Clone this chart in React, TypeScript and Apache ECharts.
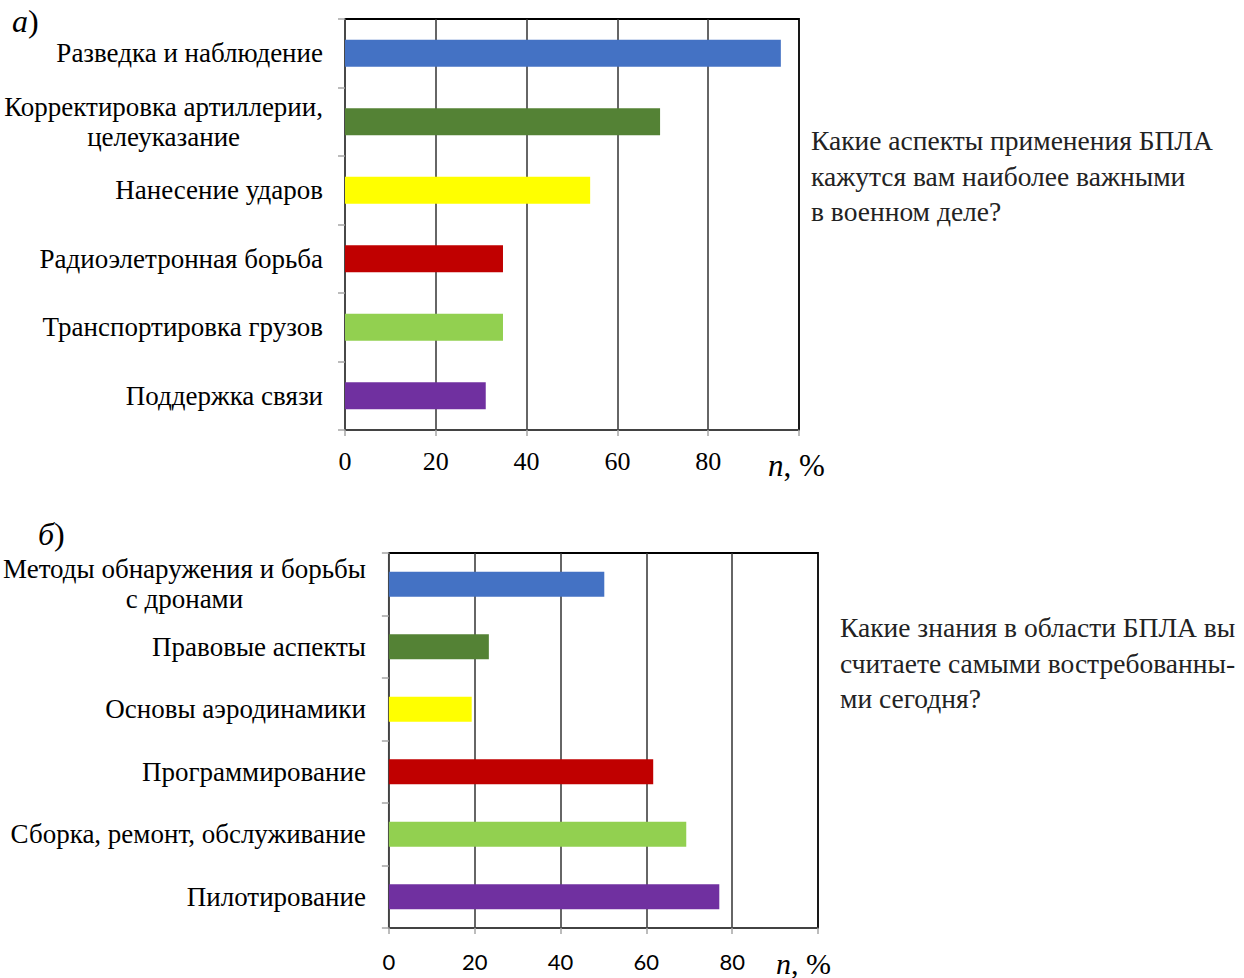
import React, { useEffect, useRef } from "react";
import * as echarts from "echarts";

const catsA = [
  "Разведка и наблюдение",
  "Корректировка артиллерии,\nцелеуказание",
  "Нанесение ударов",
  "Радиоэлетронная борьба",
  "Транспортировка грузов",
  "Поддержка связи",
];
const valsA = [96, 69.4, 54, 34.8, 34.8, 31];

const catsB = [
  "Методы обнаружения и борьбы\nс дронами",
  "Правовые аспекты",
  "Основы аэродинамики",
  "Программирование",
  "Сборка, ремонт, обслуживание",
  "Пилотирование",
];
const valsB = [50.2, 23.3, 19.3, 61.6, 69.3, 77];

const xTicks = [0, 20, 40, 60, 80];
const barColors = ["#4472C4", "#548235", "#FFFF00", "#C00000", "#92D050", "#7030A0"];

const questionA = ["Какие аспекты применения БПЛА", "кажутся вам наиболее важными", "в военном деле?"];
const questionB = ["Какие знания в области БПЛА вы", "считаете самыми востребованны-", "ми сегодня?"];

const SERIF = "Liberation Serif";

export default function App() {
  const ref = useRef<HTMLDivElement>(null);
  useEffect(() => {
    if (!ref.current) return;
    const chart = echarts.init(ref.current, undefined, { renderer: "svg" });

    const mkX = (gi: number, font: string, size: number, margin: number) => ({
      type: "value",
      gridIndex: gi,
      min: 0,
      max: 100,
      interval: 20,
      axisLine: { show: true, lineStyle: { color: "#595959", width: 1.5 } },
      axisTick: { show: true, length: 6, lineStyle: { color: "#A6A6A6", width: 1.5 } },
      axisLabel: {
        margin,
        fontFamily: font,
        fontSize: size,
        color: "#000",
        formatter: (v: number) => (xTicks.includes(v) ? String(v) : ""),
      },
      splitLine: { show: true, showMinLine: false, showMaxLine: false, lineStyle: { color: "#333333", width: 1.5 } },
    });

    const fmtCat = (v: string) =>
      v.includes("\n")
        ? v
            .split("\n")
            .map((l) => `{c|${l}}`)
            .join("\n")
        : v;

    const mkY = (gi: number, cats: string[], margin: number, lh: number) => ({
      type: "category",
      gridIndex: gi,
      data: cats,
      inverse: true,
      axisLine: { show: true, lineStyle: { color: "#595959", width: 1.5 } },
      axisTick: { show: true, length: 7, lineStyle: { color: "#A6A6A6", width: 1.5 } },
      axisLabel: {
        margin,
        fontFamily: SERIF,
        fontSize: 27,
        color: "#000",
        lineHeight: lh,
        formatter: fmtCat,
        rich: { c: { align: "center", fontFamily: SERIF, fontSize: 27, color: "#000", lineHeight: lh } },
      },
      splitLine: { show: false },
    });

    const mkData = (vals: number[]) =>
      vals.map((v, i) => ({ value: v, itemStyle: { color: barColors[i] } }));

    const questionText = (lines: string[], x: number, y: number) => ({
      type: "text",
      left: x,
      top: y,
      style: {
        text: lines.join("\n"),
        fontFamily: SERIF,
        fontSize: 27.5,
        fill: "#222",
        lineHeight: 35.5,
      },
    });

    const nLabel = (x: number, y: number, size: number) => ({
      type: "text",
      left: x,
      top: y,
      style: {
        text: "{i|n}{r|, %}",
        rich: {
          i: { fontFamily: SERIF, fontStyle: "italic", fontSize: size, fill: "#000" },
          r: { fontFamily: SERIF, fontSize: size, fill: "#000" },
        },
      },
    });

    const panelLabel = (t: string, x: number, y: number) => ({
      type: "text",
      left: x,
      top: y,
      style: {
        text: `{i|${t}}{r|)}`,
        rich: {
          i: { fontFamily: SERIF, fontStyle: "italic", fontSize: 32, fill: "#000" },
          r: { fontFamily: SERIF, fontSize: 32, fill: "#000" },
        },
      },
    });

    chart.setOption({
      animation: false,
      backgroundColor: "#fff",
      grid: [
        { left: 345, top: 19, width: 454, height: 411, show: true, borderColor: "#000", borderWidth: 1.8, backgroundColor: "transparent" },
        { left: 388, top: 553, width: 430, height: 375, show: true, borderColor: "#000", borderWidth: 1.8, backgroundColor: "transparent" },
      ],
      xAxis: [mkX(0, SERIF, 26, 18), mkX(1, "Lato", 22, 22)],
      yAxis: [mkY(0, catsA, 22, 30), mkY(1, catsB, 23, 30)],
      series: [
        { type: "bar", xAxisIndex: 0, yAxisIndex: 0, barWidth: 27, data: mkData(valsA) },
        { type: "bar", xAxisIndex: 1, yAxisIndex: 1, barWidth: 25, data: mkData(valsB) },
      ],
      graphic: [
        panelLabel("а", 12, 5),
        panelLabel("б", 38, 518),
        nLabel(768, 450, 31),
        nLabel(776, 948, 30),
        questionText(questionA, 811, 123),
        questionText(questionB, 840, 610),
      ],
    });
    return () => chart.dispose();
  }, []);
  return (
    <div
      ref={ref}
      style={{ position: "absolute", left: 0, top: 0, width: 1244, height: 978 }}
    />
  );
}
